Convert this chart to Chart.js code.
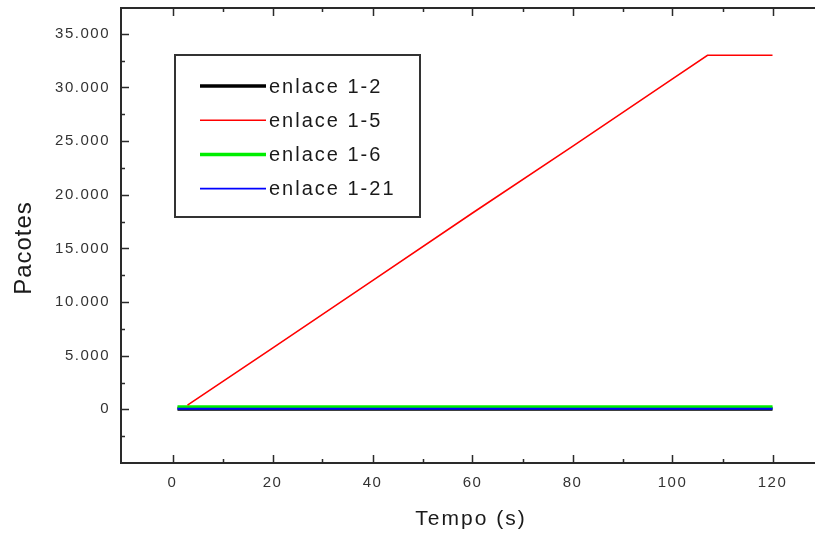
<!DOCTYPE html>
<html>
<head>
<meta charset="utf-8">
<script src="https://cdn.jsdelivr.net/npm/chart.js@4.4.1/dist/chart.umd.min.js"></script>
<style>
  html, body { margin: 0; padding: 0; background: #fff; }
  #wrap { width: 815px; height: 537px; }
</style>
</head>
<body>
<div id="wrap"><canvas id="myChart" width="815" height="537"></canvas></div>
<script>
// tempo (s) e pacotes acumulados por enlace
const tempoFlat = [1, 120]
const enlace12 = [60, 60]
const enlace16 = [200, 200]
const enlace121 = [60, 60]

const tempo15 = [3, 20, 40, 60, 80, 100, 107, 120]
const enlace15 = [400, 5700, 12000, 18300, 24500, 30800, 33000, 33000]

const xTicks = [0, 20, 40, 60, 80, 100, 120]
const yTicks = [0, 5000, 10000, 15000, 20000, 25000, 30000, 35000]

const toPoints = (xs, ys) => xs.map((x, i) => ({ x: x, y: ys[i] }))

// 35000 -> "35.000"
const fmt = (v) => String(v).replace(/\B(?=(\d{3})+(?!\d))/g, '.')

const FONT = "'Liberation Sans', Arial, sans-serif"

const framePlugin = {
  id: 'frame',
  beforeDraw(chart) {
    // the reference is a bit stretched sideways
    chart.ctx.letterSpacing = '1.5px'
  },
  afterDraw(chart) {
    const { ctx, chartArea: a, scales: { x, y } } = chart
    ctx.save()
    ctx.letterSpacing = '0px'
    ctx.strokeStyle = '#2a2a2a'

    // axes frame (left, bottom, top)
    ctx.lineWidth = 2
    ctx.beginPath()
    ctx.moveTo(a.right, a.top)
    ctx.lineTo(a.left, a.top)
    ctx.lineTo(a.left, a.bottom)
    ctx.lineTo(a.right, a.bottom)
    ctx.stroke()

    // inward ticks
    ctx.lineWidth = 1.5
    ctx.beginPath()
    const xStep = xTicks[1] - xTicks[0]
    xTicks.forEach((v) => {
      const p = Math.round(x.getPixelForValue(v)) + 0.5
      ctx.moveTo(p, a.bottom); ctx.lineTo(p, a.bottom - 8)
      ctx.moveTo(p, a.top); ctx.lineTo(p, a.top + 8)
      const m = Math.round(x.getPixelForValue(v + xStep / 2)) + 0.5
      if (m < a.right) {
        ctx.moveTo(m, a.bottom); ctx.lineTo(m, a.bottom - 4)
        ctx.moveTo(m, a.top); ctx.lineTo(m, a.top + 4)
      }
    })
    const yStep = yTicks[1] - yTicks[0]
    yTicks.forEach((v) => {
      const p = Math.round(y.getPixelForValue(v)) + 0.5
      ctx.moveTo(a.left, p); ctx.lineTo(a.left + 8, p)
      const m = Math.round(y.getPixelForValue(v - yStep / 2)) + 0.5
      ctx.moveTo(a.left, m); ctx.lineTo(a.left + 4, m)
    })
    ctx.stroke()

    // axis titles
    ctx.fillStyle = '#1a1a1a'
    ctx.textAlign = 'center'
    ctx.textBaseline = 'middle'
    ctx.font = '21px ' + FONT
    ctx.letterSpacing = '2px'
    ctx.fillText('Tempo (s)', 471, 519)

    ctx.save()
    ctx.translate(24, 248)
    ctx.rotate(-Math.PI / 2)
    ctx.font = '24px ' + FONT
    ctx.letterSpacing = '1px'
    ctx.fillText('Pacotes', 0, 0)
    ctx.restore()

    // boxed legend
    ctx.lineWidth = 2
    ctx.strokeStyle = '#333'
    ctx.strokeRect(175, 55, 245, 162)
    ctx.font = '20px ' + FONT
    ctx.letterSpacing = '2px'
    ctx.textAlign = 'left'
    chart.data.datasets.forEach((ds, i) => {
      const cy = 86 + i * 34.2
      ctx.strokeStyle = ds.borderColor
      ctx.lineWidth = ds.legendWidth
      ctx.beginPath()
      ctx.moveTo(200, cy)
      ctx.lineTo(266, cy)
      ctx.stroke()
      ctx.fillStyle = '#1a1a1a'
      ctx.fillText(ds.label, 269, cy + 1)
    })
    ctx.restore()
  }
}

const data = {
  datasets: [
    {
      label: 'enlace 1-2',
      data: toPoints(tempoFlat, enlace12),
      borderColor: '#000000',
      borderWidth: 4,
      legendWidth: 3.5,
      order: 4
    },
    {
      label: 'enlace 1-5',
      data: toPoints(tempo15, enlace15),
      borderColor: '#ff0000',
      borderWidth: 1.6,
      legendWidth: 1.6,
      order: 2
    },
    {
      label: 'enlace 1-6',
      data: toPoints(tempoFlat, enlace16),
      borderColor: '#00ee00',
      borderWidth: 4,
      legendWidth: 3.5,
      order: 3
    },
    {
      label: 'enlace 1-21',
      data: toPoints(tempoFlat, enlace121),
      borderColor: '#0000ff',
      borderWidth: 2,
      legendWidth: 1.6,
      order: 1
    }
  ]
}

const config = {
  type: 'line',
  data: data,
  plugins: [framePlugin],
  options: {
    responsive: false,
    animation: false,
    events: [],
    layout: { padding: { top: 8, right: 0, left: 0, bottom: 0 } },
    elements: {
      point: { radius: 0 },
      line: { tension: 0, borderCapStyle: 'butt' }
    },
    plugins: {
      legend: { display: false },
      tooltip: { enabled: false }
    },
    scales: {
      x: {
        type: 'linear',
        min: -10.3,
        max: 128.5,
        grid: { display: false, drawTicks: false },
        border: { display: false },
        afterBuildTicks: (scale) => { scale.ticks = xTicks.map((v) => ({ value: v })) },
        afterFit: (scale) => {
          scale.height = 74
          scale.paddingLeft = 0
          scale.paddingRight = 0
        },
        ticks: {
          padding: 11,
          maxRotation: 0,
          color: '#333',
          font: { family: FONT, size: 15 }
        }
      },
      y: {
        type: 'linear',
        min: -5000,
        max: 37400,
        grid: { display: false, drawTicks: false },
        border: { display: false },
        afterBuildTicks: (scale) => { scale.ticks = yTicks.map((v) => ({ value: v })) },
        afterFit: (scale) => {
          scale.width = 121
          scale.paddingTop = 0
          scale.paddingBottom = 0
        },
        ticks: {
          padding: 11,
          color: '#333',
          font: { family: FONT, size: 15 },
          callback: (v) => fmt(v)
        }
      }
    }
  }
}

const myChart = new Chart(document.getElementById('myChart'), config)
</script>
</body>
</html>
